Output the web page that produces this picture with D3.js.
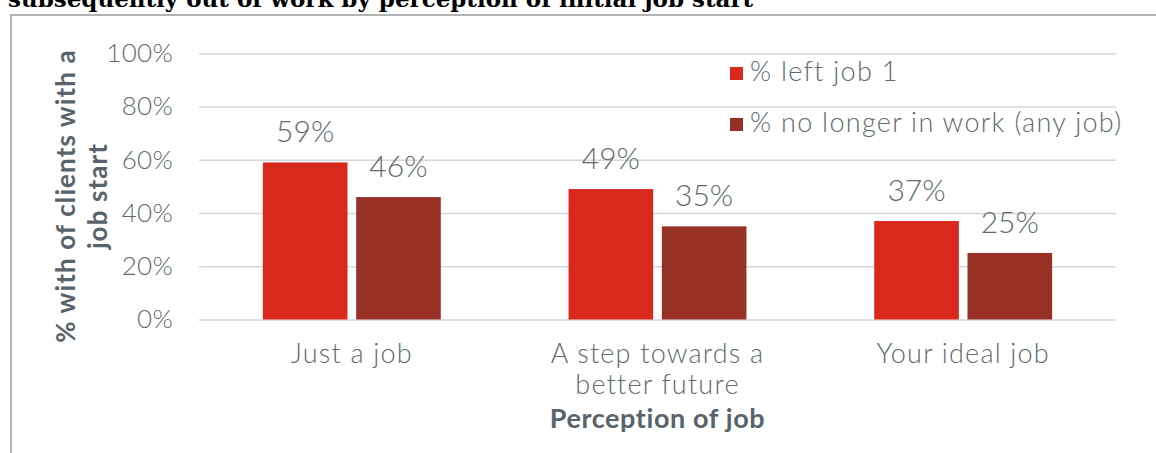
<!DOCTYPE html>
<html>
<head>
<meta charset="utf-8">
<script src="https://cdn.jsdelivr.net/npm/d3@7/dist/d3.min.js"></script>
<style>
  html, body { margin: 0; padding: 0; background: #fff; }
  svg { display: block; }
</style>
</head>
<body>
<svg id="chart" width="1156" height="453"></svg>
<script>
// Chart data
const categories = [["Just a job"], ["A step towards a", "better future"], ["Your ideal job"]];
const categoryKeys = ["Just a job", "A step towards a better future", "Your ideal job"];
const seriesNames = ["% left job 1", "% no longer in work (any job)"];
const leftJob1 = [0.59, 0.49, 0.37];
const noLongerInWork = [0.46, 0.35, 0.25];
const yTicks = [0, 0.2, 0.4, 0.6, 0.8, 1.0];

const seriesValues = [leftJob1, noLongerInWork];
const colors = ["#d9291c", "#973125"];
const textColor = "#5f6a72";
const font = "Lato, 'Open Sans', sans-serif";

const svg = d3.select("#chart");
svg.append("rect").attr("width", 1156).attr("height", 453).attr("fill", "#fff");

// Caption above the framed chart (partly off the top edge)
svg.append("text")
  .attr("x", 8).attr("y", 7)
  .attr("font-family", "'DejaVu Serif', 'Liberation Serif', serif")
  .attr("font-weight", "bold")
  .attr("font-size", 23)
  .attr("fill", "#000")
  .text("subsequently out of work by perception of initial job start");

// Frame
svg.append("path")
  .attr("d", "M11,453 V15 H1156")
  .attr("fill", "none")
  .attr("stroke", "#b3b3b3")
  .attr("stroke-width", 2);

const plot = { left: 199, right: 1116, top: 53.3, bottom: 319.5 };

const y = d3.scaleLinear().domain([0, 1]).range([plot.bottom, plot.top]);
const x0 = d3.scaleBand().domain(categoryKeys)
  .range([plot.left, plot.right])
  .paddingInner(0.418).paddingOuter(0.209);
const x1 = d3.scaleBand().domain(seriesNames)
  .range([0, x0.bandwidth()])
  .paddingInner(0.093);

// Gridlines and tick labels
const yAxis = d3.axisLeft(y)
  .tickValues(yTicks)
  .tickSize(-(plot.right - plot.left))
  .tickFormat(d3.format(".0%"))
  .tickPadding(26);

const gy = svg.append("g")
  .attr("transform", `translate(${plot.left},0)`)
  .call(yAxis);
gy.select(".domain").remove();
gy.selectAll(".tick line").attr("stroke", "#d3d7db").attr("stroke-width", 1.5);
gy.selectAll(".tick text")
  .attr("font-family", font)
  .attr("font-weight", 300)
  .attr("font-size", 26)
  .attr("letter-spacing", 0.3)
  .attr("fill", textColor);

// Bars
const groups = svg.append("g").selectAll("g")
  .data(categoryKeys)
  .join("g")
  .attr("transform", d => `translate(${x0(d)},0)`);

groups.selectAll("rect")
  .data((d, i) => seriesNames.map((s, j) => ({ s, v: seriesValues[j][i], j })))
  .join("rect")
  .attr("x", d => x1(d.s))
  .attr("y", d => y(d.v))
  .attr("width", x1.bandwidth())
  .attr("height", d => y(0) - y(d.v))
  .attr("fill", d => colors[d.j]);

// Value labels
groups.selectAll("text.val")
  .data((d, i) => seriesNames.map((s, j) => ({ s, v: seriesValues[j][i], j })))
  .join("text")
  .attr("class", "val")
  .attr("x", d => x1(d.s) + x1.bandwidth() / 2)
  .attr("y", d => y(d.v) - 20)
  .attr("text-anchor", "middle")
  .attr("font-family", font)
  .attr("font-weight", 300)
  .attr("font-size", 30)
  .attr("fill", textColor)
  .text(d => d3.format(".0%")(d.v));

// Category labels
const catG = svg.append("g");
categoryKeys.forEach((k, i) => {
  const cx = x0(k) + x0.bandwidth() / 2;
  const t = catG.append("text")
    .attr("x", cx)
    .attr("y", 363)
    .attr("text-anchor", "middle")
    .attr("font-family", font)
    .attr("font-weight", 300)
    .attr("font-size", 27)
    .attr("letter-spacing", 1.2)
    .attr("fill", textColor);
  categories[i].forEach((line, li) => {
    t.append("tspan")
      .attr("x", cx)
      .attr("dy", li === 0 ? 0 : 31)
      .text(line);
  });
});

// X axis title
svg.append("text")
  .attr("x", (plot.left + plot.right) / 2)
  .attr("y", 428)
  .attr("text-anchor", "middle")
  .attr("font-family", font)
  .attr("font-weight", "bold")
  .attr("font-size", 27)
  .attr("letter-spacing", 0.6)
  .attr("fill", "#58636b")
  .text("Perception of job");

// Y axis title
const yTitle = svg.append("text")
  .attr("transform", "translate(0,196) rotate(-90)")
  .attr("text-anchor", "middle")
  .attr("font-family", font)
  .attr("font-weight", "bold")
  .attr("font-size", 26)
  .attr("letter-spacing", 1.1)
  .attr("fill", "#58636b");
yTitle.append("tspan").attr("x", 0).attr("y", 75).text("% with of clients with a");
yTitle.append("tspan").attr("x", 0).attr("y", 107).text("job start");

// Legend
const legend = svg.append("g");
seriesNames.forEach((s, i) => {
  const ly = 81 + i * 51;
  legend.append("rect")
    .attr("x", 730).attr("y", ly - 14)
    .attr("width", 13).attr("height", 13)
    .attr("fill", colors[i]);
  legend.append("text")
    .attr("x", 750).attr("y", ly)
    .attr("font-family", font)
    .attr("font-weight", 300)
    .attr("font-size", 27)
    .attr("letter-spacing", 1.3)
    .attr("fill", textColor)
    .text(s);
});
</script>
</body>
</html>
